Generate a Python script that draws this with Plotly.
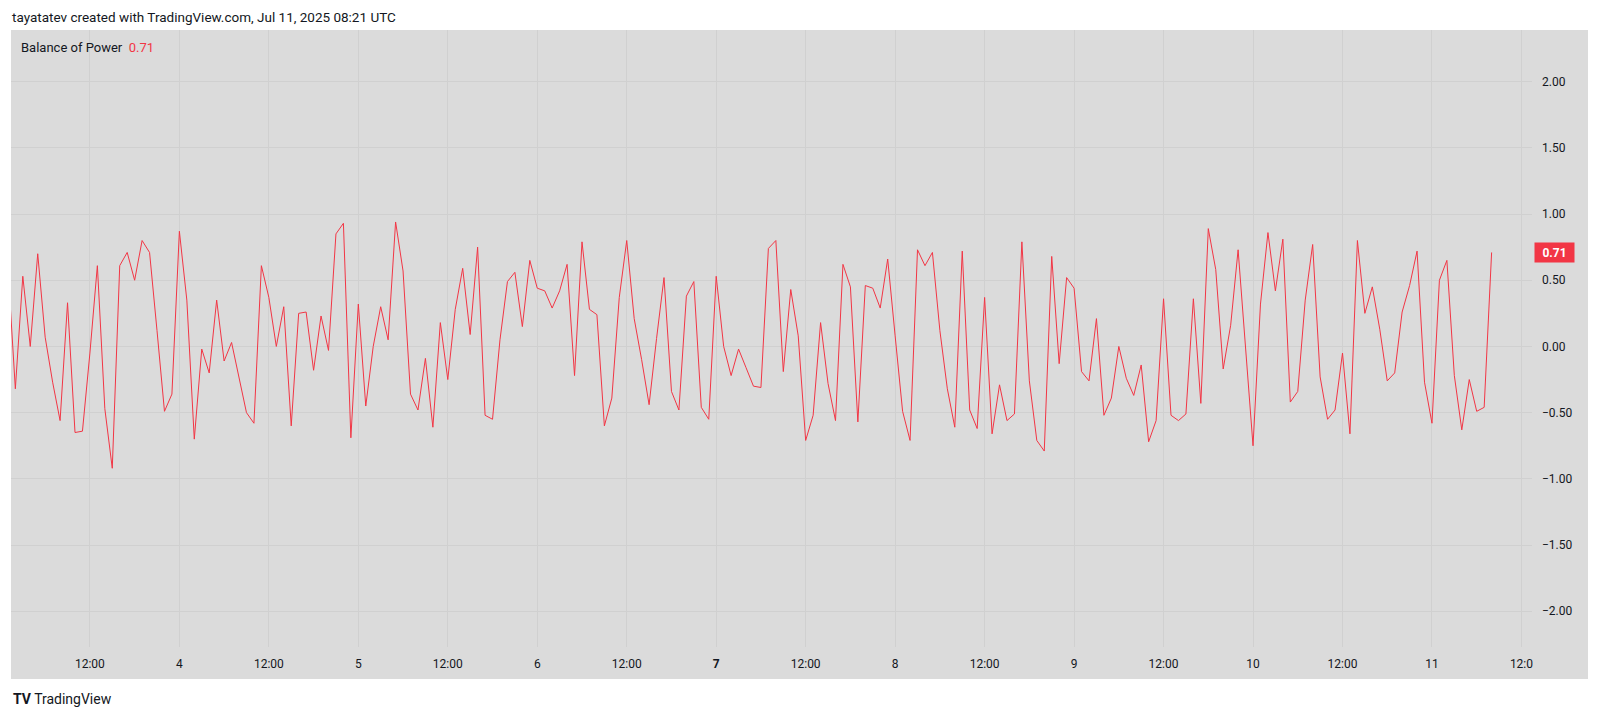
import pandas as pd
import plotly.graph_objects as go

# Balance of Power, hourly (Jul 3 01:00 .. Jul 11 08:00 UTC)
bop_jul03 = [0.60, -0.32, 0.53, 0.00, 0.70, 0.07, -0.27, -0.56, 0.33, -0.65, -0.64, -0.05,
             0.61, -0.47, -0.92, 0.61, 0.71, 0.50, 0.80, 0.71, 0.12, -0.49, -0.36]
bop_jul04 = [0.87, 0.35, -0.70, -0.02, -0.20, 0.35, -0.11, 0.03, -0.23, -0.50, -0.58, 0.61,
             0.37, 0.00, 0.30, -0.60, 0.25, 0.26, -0.18, 0.23, -0.03, 0.85, 0.93, -0.69]
bop_jul05 = [0.32, -0.45, 0.00, 0.30, 0.05, 0.94, 0.57, -0.36, -0.48, -0.09, -0.61, 0.18,
             -0.25, 0.28, 0.59, 0.09, 0.75, -0.52, -0.55, 0.05, 0.49, 0.56, 0.15, 0.65]
bop_jul06 = [0.44, 0.42, 0.29, 0.42, 0.62, -0.22, 0.79, 0.28, 0.24, -0.60, -0.39, 0.37,
             0.80, 0.21, -0.10, -0.44, 0.06, 0.52, -0.34, -0.48, 0.38, 0.49, -0.46, -0.55]
bop_jul07 = [0.53, 0.00, -0.22, -0.02, -0.16, -0.30, -0.31, 0.74, 0.80, -0.19, 0.43, 0.08,
             -0.71, -0.52, 0.18, -0.28, -0.56, 0.62, 0.45, -0.57, 0.46, 0.44, 0.29, 0.66]
bop_jul08 = [0.08, -0.49, -0.71, 0.73, 0.61, 0.71, 0.12, -0.32, -0.61, 0.72, -0.48, -0.62,
             0.37, -0.66, -0.29, -0.56, -0.51, 0.79, -0.26, -0.71, -0.79, 0.68, -0.13, 0.52]
bop_jul09 = [0.44, -0.19, -0.26, 0.21, -0.52, -0.39, 0.00, -0.24, -0.37, -0.14, -0.72, -0.56,
             0.36, -0.52, -0.56, -0.51, 0.36, -0.43, 0.89, 0.58, -0.17, 0.16, 0.73, 0.00]
bop_jul10 = [-0.75, 0.32, 0.86, 0.42, 0.81, -0.42, -0.34, 0.35, 0.77, -0.23, -0.55, -0.48,
             -0.05, -0.66, 0.80, 0.25, 0.45, 0.13, -0.26, -0.20, 0.26, 0.46, 0.72, -0.27]
bop_jul11 = [-0.58, 0.50, 0.65, -0.22, -0.63, -0.25, -0.49, -0.46, 0.71]

bop = (bop_jul03 + bop_jul04 + bop_jul05 + bop_jul06 + bop_jul07
       + bop_jul08 + bop_jul09 + bop_jul10 + bop_jul11)
times = pd.date_range("2025-07-03 01:00", periods=len(bop), freq="h")
last_value = bop[-1]

time_ticks = pd.date_range("2025-07-03 12:00", "2025-07-11 12:00", freq="12h")
time_labels = ["12:00", "4", "12:00", "5", "12:00", "6", "12:00", "<b>7</b>",
               "12:00", "8", "12:00", "9", "12:00", "10", "12:00", "11", "12:0"]
price_ticks = [-2.0, -1.5, -1.0, -0.5, 0.0, 0.5, 1.0, 1.5, 2.0]
price_labels = ["−2.00", "−1.50", "−1.00", "−0.50", "0.00", "0.50", "1.00", "1.50", "2.00"]

RED = "#f23645"
BG = "#dbdbdb"
GRID = "#d0d0d0"
TXT = "#131722"
FONT = "Roboto, DejaVu Sans, sans-serif"

fig = go.Figure()
fig.add_trace(go.Scatter(x=times, y=bop, mode="lines",
                         line=dict(color=RED, width=1), hoverinfo="skip"))

# page body has an 8px margin, so the figure is 8px smaller and margins shifted
fig.update_layout(
    width=1592, height=710,
    margin=dict(l=3, r=68, t=22, b=71),
    paper_bgcolor="white", plot_bgcolor=BG,
    showlegend=False,
    font=dict(family=FONT, size=12, color=TXT),
    # grey panel under the price and time scales too
    shapes=[dict(type="rect", xref="paper", yref="paper",
                 x0=0, x1=1577 / 1521, y0=-32 / 617, y1=1,
                 fillcolor=BG, line=dict(width=0), layer="below")],
)

fig.update_xaxes(type="date", range=["2025-07-03 01:25", "2025-07-11 13:25"],
                 tickvals=time_ticks, ticktext=time_labels, ticks="",
                 ticklabelstandoff=8, showgrid=True, gridcolor=GRID, gridwidth=1,
                 showline=False, zeroline=False, tickfont=dict(size=12, color=TXT))
fig.update_yaxes(range=[-2.27, 2.39], side="right", tickvals=price_ticks,
                 ticktext=price_labels, ticks="", ticklabelstandoff=9,
                 showgrid=True, gridcolor=GRID, gridwidth=1,
                 zeroline=False, showline=False, tickfont=dict(size=12, color=TXT))

fig.add_annotation(text="tayatatev created with TradingView.com, Jul 11, 2025 08:21 UTC",
                   xref="paper", yref="paper", x=0, y=1, xanchor="left", yanchor="bottom",
                   xshift=0, yshift=4, borderpad=0, showarrow=False,
                   font=dict(size=13.5, color=TXT))
fig.add_annotation(text="Balance of Power  <span style='color:%s'>%.2f</span>" % (RED, last_value),
                   xref="paper", yref="paper", x=0, y=1, xanchor="left", yanchor="top",
                   xshift=8, yshift=-8, showarrow=False, font=dict(size=13, color=TXT))
fig.add_annotation(text="<b>%.2f</b>" % last_value, xref="paper", yref="y",
                   x=1, y=last_value, xanchor="left", yanchor="middle", xshift=2,
                   width=35, height=15, showarrow=False, bgcolor=RED, borderpad=2,
                   font=dict(size=12, color="white"))
fig.add_annotation(text="<b>TV</b> TradingView", xref="paper", yref="paper",
                   x=0, y=0, xanchor="left", yanchor="middle", yshift=-52,
                   showarrow=False, font=dict(size=14, color=TXT))

fig.write_html("out.html")
